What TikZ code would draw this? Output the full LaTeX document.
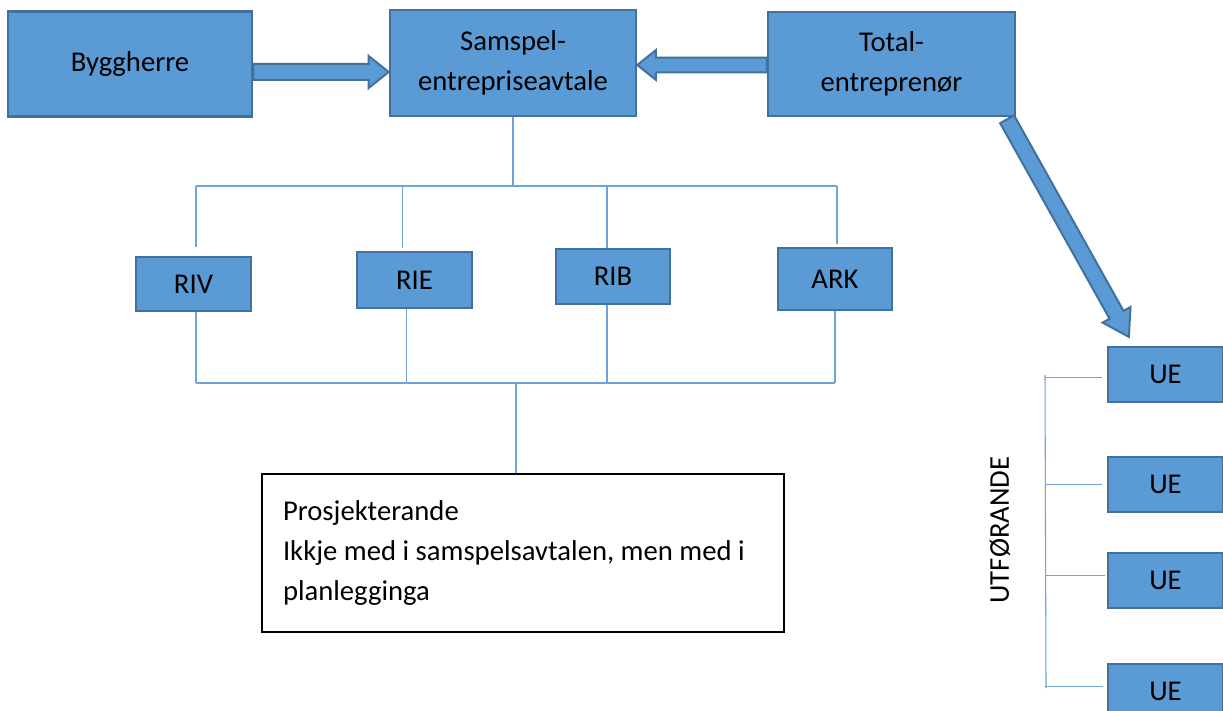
\documentclass[tikz,border=0pt]{standalone}
\usepackage{fontspec}
\setmainfont{Carlito}
\usetikzlibrary{calc}
\definecolor{boxfill}{HTML}{5B9BD5}
\definecolor{boxline}{HTML}{41719C}
\definecolor{treeline}{HTML}{6FA3DA}
\newcommand{\blockarrow}[5]{%
  \draw[fatarrow] let \p1=(#1), \p2=(#2), \n1={atan2(\y2-\y1,\x2-\x1)}, \p3=($(\p2)+(\n1+180:#5)$) in
    ($(\p1)+(\n1+90:#3)$) -- ($(\p3)+(\n1+90:#3)$) -- ($(\p3)+(\n1+90:#4)$) -- (\p2)
    -- ($(\p3)+(\n1-90:#4)$) -- ($(\p3)+(\n1-90:#3)$) -- ($(\p1)+(\n1-90:#3)$) -- cycle;}
\begin{document}
\begin{tikzpicture}[x=.75pt,y=-.75pt,
  every node/.style={font=\fontsize{21.5}{30}\selectfont},
  bluebox/.style={draw=boxline,fill=boxfill,line width=1.9pt,inner sep=0pt,align=center},
  fatarrow/.style={draw=boxline,fill=boxfill,line width=1.5pt,line join=miter},
  tree/.style={draw=treeline,line width=.8pt}]
  \clip (0,0) rectangle (1223,710);
  \useasboundingbox (0,0) rectangle (1223,710);
  \node[bluebox,minimum width=183pt,minimum height=78.75pt] (byg) at (130,64) {Byggherre};
  \node[bluebox,minimum width=184.5pt,minimum height=79.5pt] (sam) at (513,63) {Samspel-\\entrepriseavtale};
  \node[bluebox,minimum width=185pt,minimum height=78pt] (tot) at (891.5,64) {Total-\\entreprenør};
  \blockarrow{$(byg.east)+(0,8)$}{$(sam.west)+(0,9)$}{6pt}{12pt}{15pt}
  \blockarrow{$(tot.west)+(0,1)$}{$(sam.east |- tot.west)+(0,1)$}{5.6pt}{11.2pt}{14pt}
  \node[bluebox,minimum width=86pt,minimum height=40.5pt] (riv) at (193.5,284) {RIV};
  \node[bluebox,minimum width=86pt,minimum height=42pt] (rie) at (414.5,280) {RIE};
  \node[bluebox,minimum width=85.5pt,minimum height=41pt] (rib) at (613,276.5) {RIB};
  \node[bluebox,minimum width=85.5pt,minimum height=46.5pt] (ark) at (835,279) {ARK};
  \node[draw,line width=.9pt,fill=white,minimum width=391.5pt,minimum height=118.5pt,
    text width=360pt,inner xsep=15.75pt,align=flush left] (pro) at (523,553) {Prosjekterande\\Ikkje med i samspelsavtalen, men med i\\planlegginga\\[-19.5pt]};
  \coordinate (topbus) at (513,186);
  \coordinate (botbus) at (516,383);
  \coordinate (rivtop) at ($(riv.north)+(2.5,-9)$);
  \coordinate (rietop) at ($(rie.north)+(-12,-3)$);
  \coordinate (ribtop) at ($(rib.north)+(-6,0)$);
  \coordinate (arktop) at ($(ark.north)+(2,-3)$);
  \coordinate (rivbot) at ($(riv.south)+(2.5,0)$);
  \coordinate (riebot) at ($(rie.south)+(-8,0)$);
  \coordinate (ribbot) at ($(rib.south)+(-6,0)$);
  \coordinate (arkbot) at (ark.south);
  \draw[tree] (sam.south) -- (topbus);
  \draw[tree] (rivtop |- topbus) -- (arktop |- topbus);
  \foreach \n in {riv,rie,rib,ark}
    \draw[tree] (\n top) -- (\n top |- topbus);
  \foreach \n in {riv,rie,rib,ark}
    \draw[tree] (\n bot) -- (\n bot |- botbus);
  \draw[tree] (rivbot |- botbus) -- (arkbot |- botbus);
  \draw[tree] (botbus) -- (botbus |- pro.north);
  \node[bluebox,minimum width=86pt,minimum height=41pt] (ue1) at (1165.5,374.5) {UE};
  \node[bluebox,minimum width=86pt,minimum height=41pt] (ue2) at (1165.5,484.5) {UE};
  \node[bluebox,minimum width=86pt,minimum height=41pt] (ue3) at (1165.5,580.5) {UE};
  \node[bluebox,minimum width=86pt,minimum height=41pt] (ue4) at (1165.5,691.5) {UE};
  \blockarrow{$(tot.south east)+(-9,2)$}{$(ue1.north west)+(22,-9)$}{6pt}{12pt}{19pt}
  \coordinate (spine) at (1045,375);
  \coordinate (spineend) at (1046,688);
  \draw[tree] (spine) -- (spineend);
  \coordinate (ue1tick) at ($(ue1.west)+(-5,3)$);
  \coordinate (ue2tick) at ($(ue2.west)+(-5,0)$);
  \coordinate (ue3tick) at ($(ue3.west)+(-2,-5)$);
  \coordinate (ue4tick) at ($(ue4.west)+(-4,-5)$);
  \foreach \n in {ue1,ue2,ue3,ue4}
    \draw[tree] (\n tick) -- (\n tick -| spine);
  \node[rotate=90] (utf) at (1000,530) {UTFØRANDE};
\end{tikzpicture}
\end{document}
